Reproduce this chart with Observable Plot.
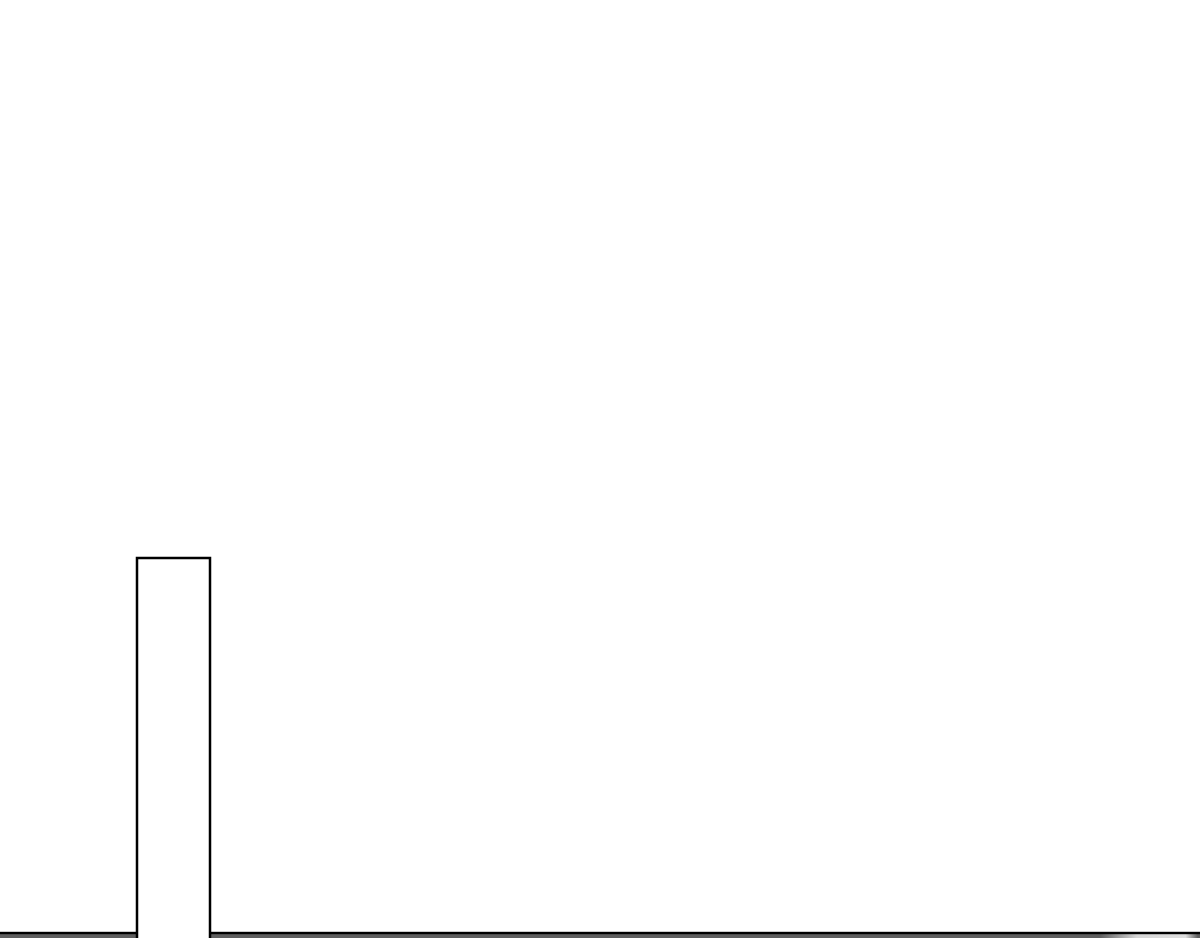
<!DOCTYPE html>
<html>
<head>
<meta charset="utf-8">
<script src="https://cdn.jsdelivr.net/npm/d3@7"></script>
<script src="https://cdn.jsdelivr.net/npm/@observablehq/plot@0.6"></script>
<style>
  html, body { margin: 0; padding: 0; background: #ffffff; overflow: hidden; }
  #chart svg { display: block; }
</style>
</head>
<body>
<div id="chart"></div>
<script>
// bins of a histogram-like chart (x in arbitrary units, y value)
const binStart = [-1, 13.7];
const binEnd   = [121, 21.0];
const values   = [0.5, 38.0];
const fills    = ["url(#band)", "#ffffff"];

const data = binStart.map((s, i) => ({ x1: s, x2: binEnd[i], y: values[i], fill: fills[i] }));

const chart = Plot.plot({
  width: 1200,
  height: 938,
  margin: 0,
  x: { domain: [0, 120], axis: null },
  y: { domain: [0, 93.8], axis: null },
  marks: [
    Plot.rectY(data, { x1: "x1", x2: "x2", y1: -2, y2: "y", fill: d => d.fill, stroke: "#000", strokeWidth: d => d.y < 1 ? 2.4 : 2.5 })
  ]
});

const defs = d3.select(chart).insert("defs", ":first-child");
const g = defs.append("linearGradient").attr("id", "band").attr("x1", "0").attr("x2", "1").attr("y1", "0").attr("y2", "0");
g.append("stop").attr("offset", "0").attr("stop-color", "#5e5e5e");
g.append("stop").attr("offset", "0.91").attr("stop-color", "#5e5e5e");
g.append("stop").attr("offset", "0.94").attr("stop-color", "#d6d6d6");
g.append("stop").attr("offset", "0.98").attr("stop-color", "#dedede");
g.append("stop").attr("offset", "0.99").attr("stop-color", "#5e5e5e");
g.append("stop").attr("offset", "1").attr("stop-color", "#5e5e5e");

document.getElementById("chart").appendChild(chart);
</script>
</body>
</html>
